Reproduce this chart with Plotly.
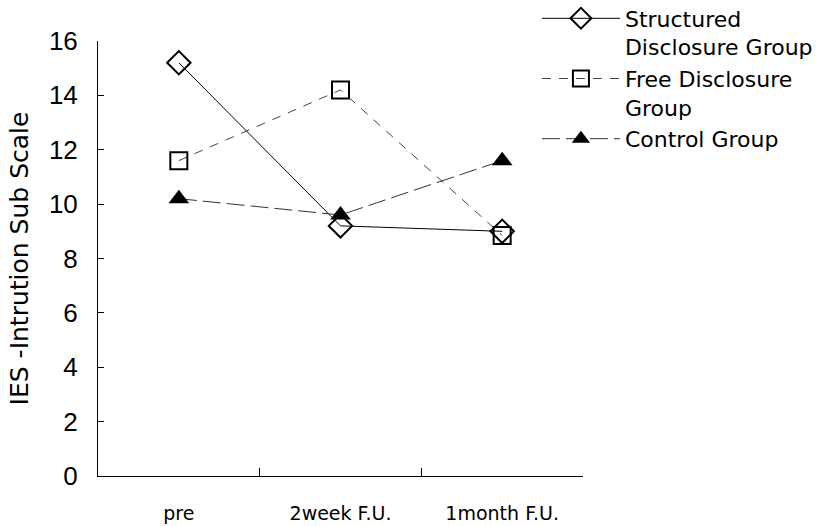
import plotly.graph_objects as go

categories = ["pre", "2week F.U.", "1month F.U."]
structured = [15.2, 9.2, 9.0]
free = [11.6, 14.2, 8.85]
control = [10.2, 9.6, 11.6]
names = ["Structured<br>Disclosure Group", "Free Disclosure<br>Group", "Control Group"]
yticks = [0, 2, 4, 6, 8, 10, 12, 14, 16]

LIB = "Liberation Sans, Arial, sans-serif"
DJV = "DejaVu Sans, sans-serif"

fig = go.Figure()
fig.add_trace(go.Scatter(
    x=categories, y=structured, name=names[0], mode="lines+markers",
    line=dict(color="black", width=1),
    marker=dict(symbol="diamond-open", size=18, color="black", line=dict(width=2)),
))
fig.add_trace(go.Scatter(
    x=categories, y=free, name=names[1], mode="lines+markers",
    line=dict(color="#444", width=1, dash="9px,8px"),
    marker=dict(symbol="square-open", size=17, color="black", line=dict(width=2)),
))
fig.add_trace(go.Scatter(
    x=categories, y=control, name=names[2], mode="lines+markers",
    line=dict(color="#333", width=1, dash="18px,6px"),
    marker=dict(symbol="triangle-up", size=18, color="black"),
))

fig.update_layout(
    width=828, height=526,
    margin=dict(l=98, r=245, t=41, b=50, autoexpand=False),
    paper_bgcolor="white", plot_bgcolor="white",
    font=dict(family=LIB, color="black"),
    showlegend=True,
    legend=dict(
        x=0.905, xanchor="left", y=1.1, yanchor="top",
        font=dict(size=22, family=DJV),
        valign="top", itemwidth=78, tracegroupgap=0,
        bgcolor="rgba(0,0,0,0)",
    ),
    xaxis=dict(
        type="category", range=[-0.5, 2.5], automargin=False,
        showline=True, linecolor="black", linewidth=1,
        ticks="inside", ticklen=8, tickcolor="black", tickson="boundaries",
        showgrid=False, zeroline=False,
        tickfont=dict(size=19, family=DJV), ticklabelstandoff=20,
    ),
    yaxis=dict(
        range=[0, 16], tickvals=yticks, automargin=False,
        showline=True, linecolor="black", linewidth=1,
        ticks="inside", ticklen=6, tickcolor="black",
        showgrid=False, zeroline=False,
        tickfont=dict(size=26, family=LIB), ticklabelstandoff=14,
        title=dict(text="IES -Intrution Sub Scale", font=dict(size=25, family=DJV), standoff=13),
    ),
)

fig.write_html("out.html", config={"displayModeBar": False},
               post_script="document.body.style.margin='0';")
